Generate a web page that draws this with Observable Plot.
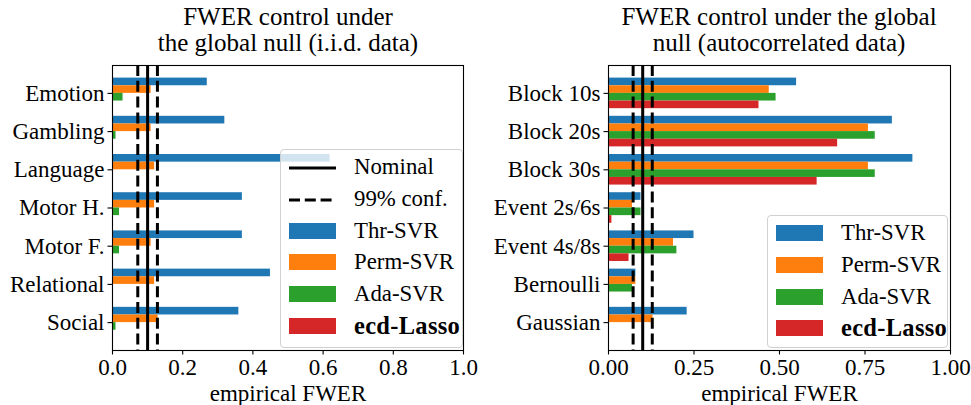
<!DOCTYPE html>
<html>
<head>
<meta charset="utf-8">
<script src="https://cdn.jsdelivr.net/npm/d3@7"></script>
<script src="https://cdn.jsdelivr.net/npm/@observablehq/plot@0.6"></script>
<style>
  html, body { margin: 0; padding: 0; background: white; }
  #wrap { position: relative; width: 971px; height: 405px; background: white; font-family: "Liberation Serif", serif; color: black; overflow: hidden; }
  .title { position: absolute; width: 420px; text-align: center; font-size: 25px; line-height: 27px; }
  .panel { position: absolute; top: 55px; }
  .legend { position: absolute; box-sizing: border-box; background: rgba(255,255,255,0.8); border: 1px solid #d0d0d0; border-radius: 4px; font-size: 22.8px; }
  .row { position: absolute; left: 0; height: 32px; display: flex; align-items: center; white-space: nowrap; }
  .handle { width: 47px; margin-left: 8px; margin-right: 18px; }
  .patch { height: 16px; }
  .bold { font-weight: bold; font-size: 24.5px; letter-spacing: 0.3px; }
</style>
</head>
<body>
<div id="wrap"></div>
<script>
// ---------- data ----------
const methods = ["Thr-SVR", "Perm-SVR", "Ada-SVR", "ecd-Lasso"];
const methodColors = ["#1f77b4", "#ff7f0e", "#2ca02c", "#d62728"];

const categoriesIID = ["Emotion", "Gambling", "Language", "Motor H.", "Motor F.", "Relational", "Social"];
const thrIID   = [0.27, 0.32, 0.62, 0.37, 0.37, 0.45, 0.36];
const permIID  = [0.11, 0.11, 0.12, 0.12, 0.11, 0.12, 0.13];
const adaIID   = [0.03, 0.01, 0.00, 0.02, 0.02, 0.00, 0.01];
const lassoIID = [0.00, 0.00, 0.00, 0.00, 0.00, 0.00, 0.00];

const categoriesAR = ["Block 10s", "Block 20s", "Block 30s", "Event 2s/6s", "Event 4s/8s", "Bernoulli", "Gaussian"];
const thrAR   = [0.55, 0.83, 0.89, 0.095, 0.25, 0.08, 0.23];
const permAR  = [0.47, 0.76, 0.76, 0.07, 0.19, 0.08, 0.13];
const adaAR   = [0.49, 0.78, 0.78, 0.095, 0.20, 0.07, 0.002];
const lassoAR = [0.44, 0.67, 0.61, 0.01, 0.06, 0.002, 0.002];

const nominal = [0.1];
const confBounds = [0.072, 0.128];

const ticksIID = [0, 0.2, 0.4, 0.6, 0.8, 1.0];
const ticksAR = [0, 0.25, 0.5, 0.75, 1.0];

const titleIID = ["FWER control under", "the global null (i.i.d. data)"];
const titleAR = ["FWER control under the global", "null (autocorrelated data)"];
const xLabel = "empirical FWER";
const legendLines = ["Nominal", "99% conf."];

// ---------- drawing ----------
const wrap = document.getElementById("wrap");

function panel({cats, series, ticks, fmt, left, width, marginLeft, marginRight}) {
  const height = 350, marginTop = 10, marginBottom = 55;
  const plotH = height - marginTop - marginBottom;
  const pInner = 0.2, pOuter = 0.33;
  const step = plotH / (cats.length - pInner + 2 * pOuter);
  const bw = step * (1 - pInner);
  const h = bw / series.length;
  const marks = series.map((vals, i) =>
    Plot.barX(cats.map((c, j) => ({cat: c, v: vals[j]})), {
      x: "v", y: "cat", fill: methodColors[i],
      insetTop: i * h, insetBottom: (series.length - 1 - i) * h
    })
  );
  const svg = Plot.plot({
    width, height, marginTop, marginBottom, marginLeft, marginRight,
    style: {fontFamily: "'Liberation Serif', serif", fontSize: "23px", color: "black", background: "white", overflow: "visible"},
    x: {domain: [0, 1]},
    y: {domain: cats, paddingInner: pInner, paddingOuter: pOuter, round: false},
    marks: [
      ...marks,
      Plot.ruleX(nominal, {stroke: "black", strokeWidth: 3}),
      Plot.ruleX(confBounds, {stroke: "black", strokeWidth: 3, strokeDasharray: "11,4.8"}),
      Plot.frame({stroke: "black", strokeWidth: 1.1}),
      Plot.axisY({tickSize: 4.5, tickPadding: 3.5, label: null, strokeWidth: 1.1}),
      Plot.axisX({ticks, tickFormat: d3.format(fmt), tickSize: 4.5, tickPadding: 4, strokeWidth: 1.1,
                  label: xLabel, labelAnchor: "center", labelArrow: "none", labelOffset: 50})
    ]
  });
  svg.classList.add("panel");
  svg.style.left = left + "px";
  wrap.appendChild(svg);
}

function title(lines, center) {
  lines.forEach((s, k) => {
    const d = document.createElement("div");
    d.className = "title";
    d.style.left = (center - 210) + "px";
    d.style.top = (5 + k * 26) + "px";
    d.style.height = "24px";
    d.style.lineHeight = "24px";
    d.textContent = s;
    wrap.appendChild(d);
  });
}

function legend({left, top, width, height, withLines}) {
  const d = document.createElement("div");
  d.className = "legend";
  Object.assign(d.style, {left: left + "px", top: top + "px", width: width + "px", height: height + "px"});
  const rows = [];
  if (withLines) {
    rows.push({label: legendLines[0], type: "solid"});
    rows.push({label: legendLines[1], type: "dashed"});
  }
  methods.forEach((m, i) => rows.push({label: m, type: "patch", color: methodColors[i], bold: i === 3}));
  rows.forEach((r, k) => {
    const row = document.createElement("div");
    row.className = "row";
    row.style.top = (1 + k * 31.8) + "px";
    const handle = document.createElement("div");
    handle.className = "handle";
    if (r.type === "patch") {
      handle.classList.add("patch");
      handle.style.background = r.color;
    } else {
      handle.innerHTML = r.type === "solid"
        ? '<svg width="47" height="6"><line x1="0" x2="47" y1="3" y2="3" stroke="black" stroke-width="3"/></svg>'
        : '<svg width="47" height="6"><line x1="0" x2="47" y1="3" y2="3" stroke="black" stroke-width="3" stroke-dasharray="11,4.8"/></svg>';
      handle.style.height = "6px";
      handle.style.lineHeight = "0";
    }
    const text = document.createElement("span");
    text.textContent = r.label;
    if (r.bold) text.className = "bold";
    row.appendChild(handle);
    row.appendChild(text);
    d.appendChild(row);
  });
  wrap.appendChild(d);
}

panel({cats: categoriesIID, series: [thrIID, permIID, adaIID, lassoIID], ticks: ticksIID, fmt: ".1f",
       left: 0, width: 480, marginLeft: 112, marginRight: 17});
panel({cats: categoriesAR, series: [thrAR, permAR, adaAR, lassoAR], ticks: ticksAR, fmt: ".2f",
       left: 491, width: 480, marginLeft: 117, marginRight: 21});

title(titleIID, 288);
title(titleAR, 779);

legend({left: 280, top: 149, width: 183, height: 199, withLines: true});
legend({left: 767, top: 215, width: 181, height: 133, withLines: false});
</script>
</body>
</html>
